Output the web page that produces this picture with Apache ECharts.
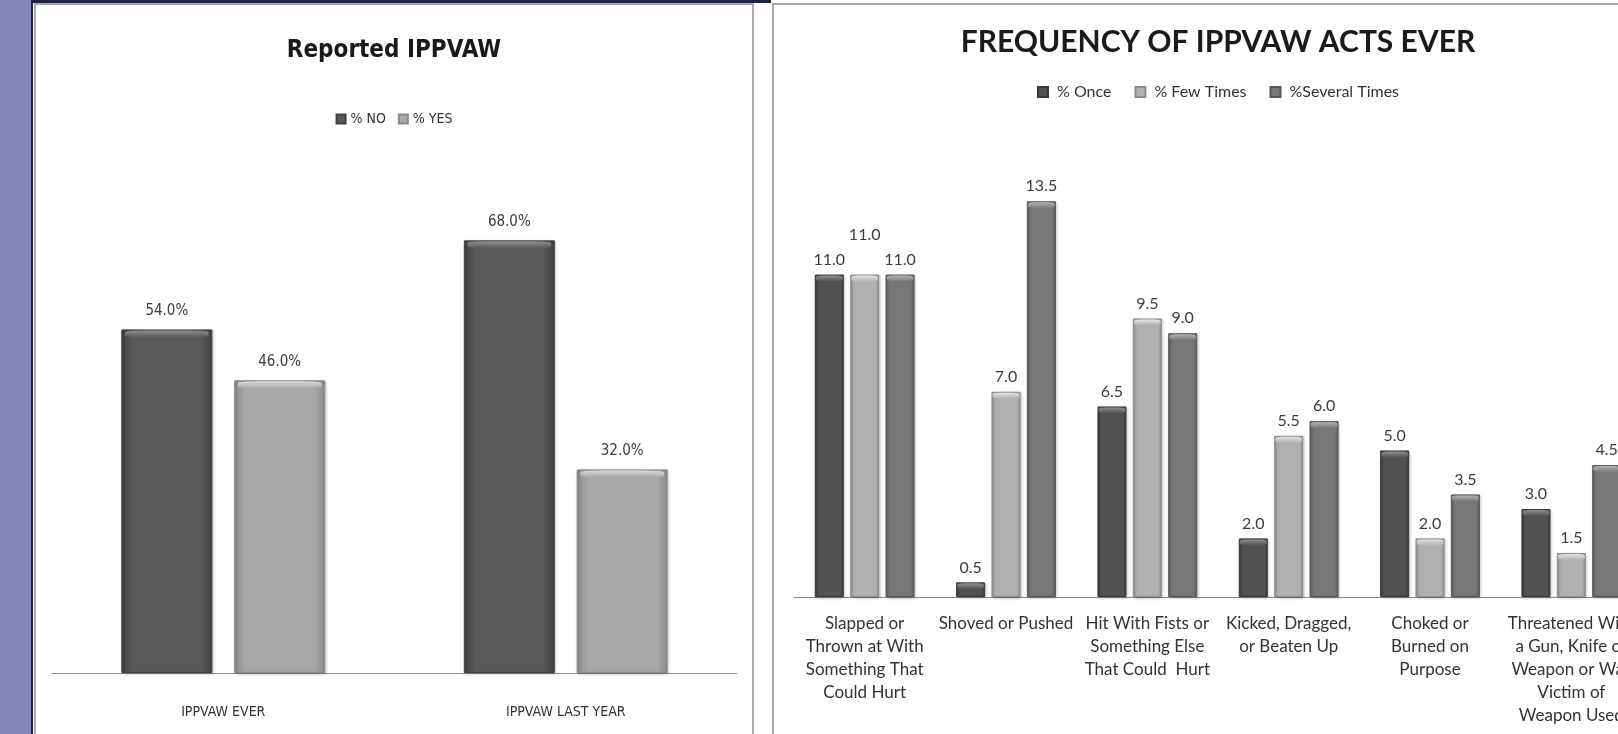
<!DOCTYPE html>
<html>
<head>
<meta charset="utf-8">
<script src="https://cdn.jsdelivr.net/npm/echarts@6/dist/echarts.min.js"></script>
<style>
  html, body { margin: 0; padding: 0; background: #fff; }
  body { width: 1618px; height: 734px; overflow: hidden; position: relative; }
  .strip { position: absolute; left: 0; top: 0; width: 31px; height: 734px; background: #8586b8; }
  .navy-v { position: absolute; left: 31px; top: 0; width: 2px; height: 734px; background: #1d2048; }
  .navy-h { position: absolute; left: 31px; top: 0; width: 740px; height: 3px; background: #1d2048; }
  .panel { position: absolute; top: 3px; height: 760px; border: 2px solid #a9a9a9; box-sizing: border-box; }
  .chart { position: absolute; top: 5px; height: 729px; }
</style>
</head>
<body>
<div class="strip"></div>
<div class="navy-v"></div>
<div class="navy-h"></div>
<div class="panel" style="left:34px;width:720px"></div>
<div class="panel" style="left:772px;width:900px"></div>
<div id="left" class="chart" style="left:36px;width:716px"></div>
<div id="right" class="chart" style="left:774px;width:888px"></div>

<script>
// left chart data
const reportCats = ['IPPVAW EVER', 'IPPVAW LAST YEAR']
const reportNo = [54.0, 68.0]
const reportYes = [46.0, 32.0]

// right chart data
const actCats = [
  'Slapped or\nThrown at With\nSomething That\nCould Hurt',
  'Shoved or Pushed',
  'Hit With Fists or\nSomething Else\nThat Could  Hurt',
  'Kicked, Dragged,\nor Beaten Up',
  'Choked or\nBurned on\nPurpose',
  'Threatened With\na Gun, Knife or\nWeapon or Was\nVictim of\nWeapon Used',
]
const actOnce = [11.0, 0.5, 6.5, 2.0, 5.0, 3.0]
const actFew = [11.0, 7.0, 9.5, 5.5, 2.0, 1.5]
const actSeveral = [11.0, 13.5, 9.0, 6.0, 3.5, 4.5]

const narrow = '"Liberation Sans Narrow", "DejaVu Sans Condensed", sans-serif'
const calibriLike = 'Lato, "Open Sans", sans-serif'

function barFill(edge, base) {
  return new echarts.graphic.LinearGradient(0, 0, 1, 0, [
    { offset: 0, color: edge },
    { offset: 0.12, color: base },
    { offset: 0.88, color: base },
    { offset: 1, color: edge },
  ])
}
function capFill(light, base) {
  return new echarts.graphic.LinearGradient(0, 0, 0, 1, [
    { offset: 0, color: light },
    { offset: 1, color: base },
  ])
}

function barSeries(name, data, c, opts) {
  return {
    name,
    type: 'bar',
    data,
    barWidth: opts.barWidth,
    barGap: opts.barGap,
    itemStyle: {
      color: barFill(c.edge, c.base),
      borderColor: c.edge,
      borderWidth: 1,
      shadowBlur: 3,
      shadowColor: 'rgba(0,0,0,0.25)',
      shadowOffsetX: 1,
      shadowOffsetY: 1,
    },
    label: {
      show: true,
      position: 'top',
      distance: opts.labelDist,
      color: '#3c3c3c',
      fontFamily: opts.font,
      fontSize: opts.labelSize,
      formatter: opts.fmt,
    },
    z: 2,
  }
}
function capSeries(data, c, opts) {
  return {
    name: '',
    type: 'pictorialBar',
    data: data.map((d) => (typeof d === 'object' ? d.value : d)),
    barWidth: opts.barWidth,
    barGap: opts.barGap,
    symbol: 'roundRect',
    symbolSize: ['92%', opts.capH],
    symbolPosition: 'end',
    symbolOffset: [0, 1],
    itemStyle: { color: capFill(c.light, c.base) },
    silent: true,
    tooltip: { show: false },
    z: 3,
  }
}

const leftColors = [
  { base: '#595959', edge: '#404040', light: '#8e8e8e' },
  { base: '#a8a8a8', edge: '#8a8a8a', light: '#dadada' },
]
const leftOpts = {
  barWidth: 91, barGap: '24%', labelDist: 11, labelSize: 15, capH: 7,
  font: narrow, fmt: (p) => p.value.toFixed(1) + '%',
}
const leftChart = echarts.init(document.getElementById('left'))
leftChart.setOption({
  animation: false,
  title: {
    text: 'Reported IPPVAW',
    left: 'center',
    top: 29,
    textStyle: { fontFamily: narrow, fontWeight: 'bold', fontSize: 24, color: '#1a1a1a' },
  },
  legend: {
    data: ['% NO', '% YES'],
    top: 102,
    left: 'center',
    icon: 'rect',
    itemWidth: 9,
    itemHeight: 9,
    itemGap: 12,
    textStyle: { fontFamily: narrow, fontSize: 14, color: '#333' },
  },
  grid: { left: 16, right: 15, top: 159, bottom: 61 },
  xAxis: {
    type: 'category',
    data: reportCats,
    axisLine: { lineStyle: { color: '#8c8c8c', width: 1 } },
    axisTick: { show: false },
    axisLabel: { margin: 32, fontFamily: narrow, fontSize: 14, color: '#333' },
  },
  yAxis: { type: 'value', min: 0, max: 80, show: false },
  series: [
    barSeries('% NO', reportNo, leftColors[0], leftOpts),
    barSeries('% YES', reportYes, leftColors[1], leftOpts),
    capSeries(reportNo, leftColors[0], leftOpts),
    capSeries(reportYes, leftColors[1], leftOpts),
  ],
})

const rightColors = [
  { base: '#525252', edge: '#393939', light: '#8e8e8e' },
  { base: '#b0b0b0', edge: '#8e8e8e', light: '#e4e4e4' },
  { base: '#777777', edge: '#585858', light: '#b2b2b2' },
]
const rightOpts = {
  barWidth: 29, barGap: '22%', labelDist: 7, labelSize: 16, capH: 6,
  font: calibriLike, fmt: (p) => p.value.toFixed(1),
}
// middle label of the first group sits higher to avoid overlap
const fewData = actFew.map((v, i) => (i === 0 ? { value: v, label: { offset: [0, -25] } } : v))

const rightChart = echarts.init(document.getElementById('right'))
rightChart.setOption({
  animation: false,
  title: {
    text: 'FREQUENCY OF IPPVAW ACTS EVER',
    left: 'center',
    top: 17,
    textStyle: { fontFamily: calibriLike, fontWeight: 'bold', fontSize: 30, color: '#1a1a1a' },
  },
  legend: {
    data: ['% Once', '% Few Times', '%Several Times'],
    top: 74,
    left: 'center',
    icon: 'rect',
    itemWidth: 10,
    itemHeight: 10,
    itemGap: 23,
    textStyle: { fontFamily: calibriLike, fontSize: 16, color: '#333', padding: [0, 0, 0, 4] },
  },
  grid: { left: 20, right: 20, top: 123, bottom: 137 },
  xAxis: {
    type: 'category',
    data: actCats,
    axisLine: { lineStyle: { color: '#8c8c8c', width: 1 } },
    axisTick: { show: false },
    axisLabel: {
      interval: 0,
      margin: 15,
      fontFamily: calibriLike,
      fontSize: 17,
      lineHeight: 23,
      color: '#333',
      align: 'center',
    },
  },
  yAxis: { type: 'value', min: 0, max: 16, show: false },
  series: [
    barSeries('% Once', actOnce, rightColors[0], rightOpts),
    barSeries('% Few Times', fewData, rightColors[1], rightOpts),
    barSeries('%Several Times', actSeveral, rightColors[2], rightOpts),
    capSeries(actOnce, rightColors[0], rightOpts),
    capSeries(fewData, rightColors[1], rightOpts),
    capSeries(actSeveral, rightColors[2], rightOpts),
  ],
})
</script>
</body>
</html>
